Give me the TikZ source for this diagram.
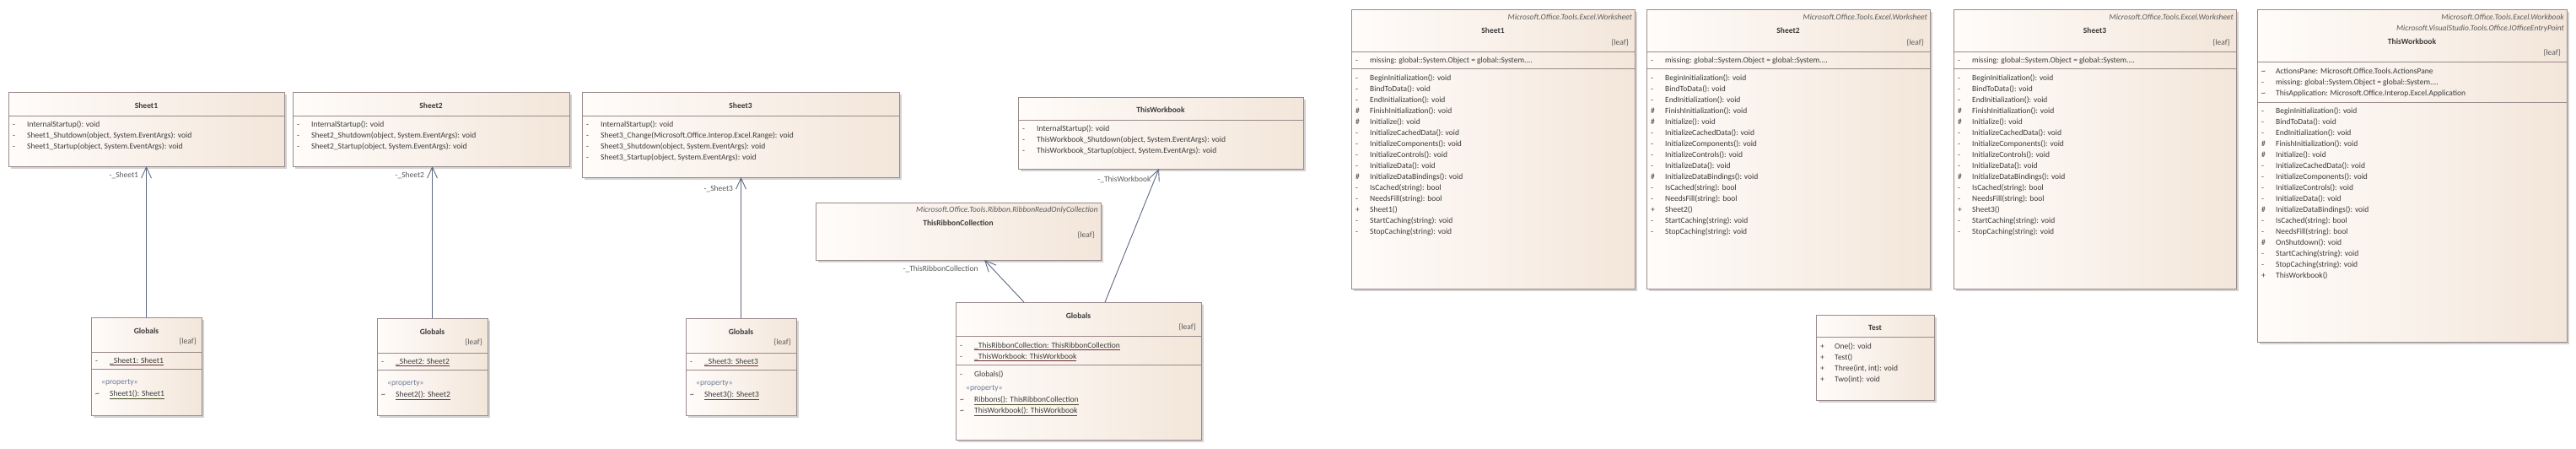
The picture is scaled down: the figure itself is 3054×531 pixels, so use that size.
\documentclass[tikz,border=0pt]{standalone}
\usepackage{fontspec}
\setmainfont{Carlito}
\usepackage{xcolor}
\usetikzlibrary{arrows.meta, positioning, calc, shadows}

\definecolor{boxline}{HTML}{9A8A8A}
\definecolor{boxleft}{HTML}{FFFCFA}
\definecolor{boxright}{HTML}{F3E6DA}
\definecolor{boxshadow}{HTML}{D2D2D2}
\definecolor{txt}{HTML}{3A3A3A}
\definecolor{stereo}{HTML}{5A5A5A}
\definecolor{assocline}{HTML}{5D6982}
\definecolor{attrline}{HTML}{6E2C2C}
\definecolor{propline}{HTML}{3F4B20}
\definecolor{propkw}{HTML}{6B7C99}

\newcommand{\rowfont}{\fontsize{9.5}{13}\selectfont}
\newcommand{\vis}[1]{\makebox[17pt][l]{#1}}
\newcommand{\attr}[1]{\textcolor{attrline}{\underline{\textcolor{txt}{#1}}}}
\newcommand{\prop}[1]{\textcolor{propline}{\underline{\textcolor{txt}{#1}}}}
\newcommand{\tld}{\textasciitilde}
\newcommand{\cut}{....}

\begin{document}
\begin{tikzpicture}[x=1pt, y=-1pt,
    classbox/.style={draw=boxline, line width=0.9pt, left color=boxleft, right color=boxright,
      anchor=north west, inner sep=0pt, outer sep=0pt,
      drop shadow={shadow xshift=3pt, shadow yshift=-3pt, fill=boxshadow, opacity=1}},
    divider/.style={draw=boxline, line width=0.9pt},
    classname/.style={anchor=base, inner sep=0pt, font=\rowfont\bfseries, text=txt},
    stereotype/.style={anchor=base east, inner sep=0pt, font=\rowfont\itshape, text=stereo},
    leaf/.style={anchor=base east, inner sep=0pt, font=\rowfont, text=stereo},
    row/.style={anchor=base west, inner sep=0pt, font=\rowfont, text=txt},
    propkey/.style={anchor=base west, inner sep=0pt, font=\rowfont, text=propkw},
    assoc/.style={-{Straight Barb[length=13pt, width=12pt]}, draw=assocline, line width=0.9pt},
    rolename/.style={anchor=east, inner sep=0pt, font=\rowfont, text=stereo}
]
  \useasboundingbox (0,0) rectangle (3054,531);
  \fill[white] (0,0) rectangle (3054,531);

  % Sheet classes (code-behind)
  \node[classbox, minimum width=327pt, minimum height=88pt] (sheetA) at (10,109) {};
  \node[classbox, minimum width=328pt, minimum height=88pt] (sheetB) at (347,109) {};
  \node[classbox, minimum width=376pt, minimum height=101pt] (sheetC) at (690,109) {};
  \foreach \s/\n in {sheetA/1, sheetB/2, sheetC/3} {
    \draw[divider] ([yshift=-28pt]\s.north west) -- ([yshift=-28pt]\s.north east);
    \node[classname] at ([yshift=-19pt]\s.north) {Sheet\n};
  }
  \foreach \t [count=\i from 0] in {{\vis{-}InternalStartup(): void},
      {\vis{-}Sheet1\_Shutdown(object, System.EventArgs): void},
      {\vis{-}Sheet1\_Startup(object, System.EventArgs): void}}
    \node[row] at ([xshift=5pt, yshift=-41pt-\i*13pt]sheetA.north west) {\t};
  \foreach \t [count=\i from 0] in {{\vis{-}InternalStartup(): void},
      {\vis{-}Sheet2\_Shutdown(object, System.EventArgs): void},
      {\vis{-}Sheet2\_Startup(object, System.EventArgs): void}}
    \node[row] at ([xshift=5pt, yshift=-41pt-\i*13pt]sheetB.north west) {\t};
  \foreach \t [count=\i from 0] in {{\vis{-}InternalStartup(): void},
      {\vis{-}Sheet3\_Change(Microsoft.Office.Interop.Excel.Range): void},
      {\vis{-}Sheet3\_Shutdown(object, System.EventArgs): void},
      {\vis{-}Sheet3\_Startup(object, System.EventArgs): void}}
    \node[row] at ([xshift=5pt, yshift=-41pt-\i*13pt]sheetC.north west) {\t};

  % ThisWorkbook (code-behind)
  \node[classbox, minimum width=338pt, minimum height=85pt] (wbA) at (1207,115) {};
  \draw[divider] ([yshift=-27pt]wbA.north west) -- ([yshift=-27pt]wbA.north east);
  \node[classname] at ([yshift=-18pt]wbA.north) {ThisWorkbook};
  \foreach \t [count=\i from 0] in {{\vis{-}InternalStartup(): void},
      {\vis{-}ThisWorkbook\_Shutdown(object, System.EventArgs): void},
      {\vis{-}ThisWorkbook\_Startup(object, System.EventArgs): void}}
    \node[row] at ([xshift=5pt, yshift=-40pt-\i*13pt]wbA.north west) {\t};

  % ThisRibbonCollection
  \node[classbox, minimum width=338pt, minimum height=68pt] (ribbon) at (967,240) {};
  \node[stereotype] at ([xshift=-3pt, yshift=-11pt]ribbon.north east) {Microsoft.Office.Tools.Ribbon.RibbonReadOnlyCollection};
  \node[classname] at ([yshift=-27pt]ribbon.north) {ThisRibbonCollection};
  \node[leaf] at ([xshift=-7pt, yshift=-41pt]ribbon.north east) {\{leaf\}};

  % Globals of each sheet
  \node[classbox, minimum width=131pt, minimum height=116pt] (globA) at (108,376) {};
  \node[classbox, minimum width=131pt, minimum height=115pt] (globB) at (447,377) {};
  \node[classbox, minimum width=131pt, minimum height=115pt] (globC) at (813,377) {};
  \foreach \g/\n in {globA/1, globB/2, globC/3} {
    \node[classname] at ([yshift=-19pt]\g.north) {Globals};
    \node[leaf] at ([xshift=-6pt, yshift=-31pt]\g.north east) {\{leaf\}};
    \draw[divider] ([yshift=-41pt]\g.north west) -- ([yshift=-41pt]\g.north east);
    \node[row] at ([xshift=5pt, yshift=-54pt]\g.north west) {\vis{-}\attr{\_Sheet\n: Sheet\n}};
    \draw[divider] ([yshift=-61pt]\g.north west) -- ([yshift=-61pt]\g.north east);
    \node[propkey] at ([xshift=12pt, yshift=-79pt]\g.north west) {«property»};
    \node[row] at ([xshift=5pt, yshift=-93pt]\g.north west) {\vis{\tld}\prop{Sheet\n(): Sheet\n}};
  }

  % Globals of the workbook
  \node[classbox, minimum width=291pt, minimum height=163pt] (globM) at (1133,358) {};
  \node[classname] at ([yshift=-19pt]globM.north) {Globals};
  \node[leaf] at ([xshift=-6pt, yshift=-32pt]globM.north east) {\{leaf\}};
  \draw[divider] ([yshift=-40pt]globM.north west) -- ([yshift=-40pt]globM.north east);
  \node[row] at ([xshift=5pt, yshift=-54pt]globM.north west) {\vis{-}\attr{\_ThisRibbonCollection: ThisRibbonCollection}};
  \node[row] at ([xshift=5pt, yshift=-67pt]globM.north west) {\vis{-}\attr{\_ThisWorkbook: ThisWorkbook}};
  \draw[divider] ([yshift=-74pt]globM.north west) -- ([yshift=-74pt]globM.north east);
  \node[row] at ([xshift=5pt, yshift=-88pt]globM.north west) {\vis{-}Globals()};
  \node[propkey] at ([xshift=12pt, yshift=-104pt]globM.north west) {«property»};
  \node[row] at ([xshift=5pt, yshift=-118pt]globM.north west) {\vis{\tld}\prop{Ribbons(): ThisRibbonCollection}};
  \node[row] at ([xshift=5pt, yshift=-131pt]globM.north west) {\vis{\tld}\prop{ThisWorkbook(): ThisWorkbook}};

  % Associations
  \draw[assoc] (globA.north) -- (globA.north |- sheetA.south)
    node[rolename, pos=1, xshift=-9pt, yshift=-11pt] {-\_Sheet1};
  \draw[assoc] (globB.north) -- (globB.north |- sheetB.south)
    node[rolename, pos=1, xshift=-9pt, yshift=-11pt] {-\_Sheet2};
  \draw[assoc] (globC.north) -- (globC.north |- sheetC.south)
    node[rolename, pos=1, xshift=-9pt, yshift=-14pt] {-\_Sheet3};
  \draw[assoc] ([xshift=-64.5pt]globM.north) -- ([xshift=31pt]ribbon.south)
    node[rolename, pos=1, xshift=-7pt, yshift=-11pt] {-\_ThisRibbonCollection};
  \draw[assoc] ([xshift=31.5pt]globM.north) -- ([xshift=-2pt]wbA.south)
    node[rolename, pos=1, xshift=-9pt, yshift=-13pt] {-\_ThisWorkbook};

  % Generated worksheet classes
  \node[classbox, minimum width=336pt, minimum height=331pt] (sheetR1) at (1602,11) {};
  \node[classbox, minimum width=336pt, minimum height=331pt] (sheetR2) at (1952,11) {};
  \node[classbox, minimum width=335pt, minimum height=331pt] (sheetR3) at (2316,11) {};
  \foreach \s/\n in {sheetR1/1, sheetR2/2, sheetR3/3} {
    \node[stereotype] at ([xshift=-3pt, yshift=-12pt]\s.north east) {Microsoft.Office.Tools.Excel.Worksheet};
    \node[classname] at ([yshift=-28pt]\s.north) {Sheet\n};
    \node[leaf] at ([xshift=-7pt, yshift=-42pt]\s.north east) {\{leaf\}};
    \draw[divider] ([yshift=-50pt]\s.north west) -- ([yshift=-50pt]\s.north east);
    \node[row] at ([xshift=5pt, yshift=-63pt]\s.north west) {\vis{-}missing: global::System.Object = global::System\cut};
    \draw[divider] ([yshift=-70pt]\s.north west) -- ([yshift=-70pt]\s.north east);
    \foreach \t [count=\i from 0] in {{\vis{-}BeginInitialization(): void},
        {\vis{-}BindToData(): void}, {\vis{-}EndInitialization(): void},
        {\vis{\#}FinishInitialization(): void}, {\vis{\#}Initialize(): void},
        {\vis{-}InitializeCachedData(): void}, {\vis{-}InitializeComponents(): void},
        {\vis{-}InitializeControls(): void}, {\vis{-}InitializeData(): void},
        {\vis{\#}InitializeDataBindings(): void}, {\vis{-}IsCached(string): bool},
        {\vis{-}NeedsFill(string): bool}, {\vis{+}Sheet\n()},
        {\vis{-}StartCaching(string): void}, {\vis{-}StopCaching(string): void}}
      \node[row] at ([xshift=5pt, yshift=-84pt-\i*13pt]\s.north west) {\t};
  }

  % Generated workbook class
  \node[classbox, minimum width=367pt, minimum height=394pt] (wbR) at (2676,11) {};
  \node[stereotype] at ([xshift=-3pt, yshift=-12pt]wbR.north east) {Microsoft.Office.Tools.Excel.Workbook};
  \node[stereotype] at ([xshift=-3pt, yshift=-25pt]wbR.north east) {Microsoft.VisualStudio.Tools.Office.IOfficeEntryPoint};
  \node[classname] at ([yshift=-41pt]wbR.north) {ThisWorkbook};
  \node[leaf] at ([xshift=-7pt, yshift=-54pt]wbR.north east) {\{leaf\}};
  \draw[divider] ([yshift=-62pt]wbR.north west) -- ([yshift=-62pt]wbR.north east);
  \foreach \t [count=\i from 0] in {{\vis{\tld}ActionsPane: Microsoft.Office.Tools.ActionsPane},
      {\vis{-}missing: global::System.Object = global::System\cut},
      {\vis{\tld}ThisApplication: Microsoft.Office.Interop.Excel.Application}}
    \node[row] at ([xshift=5pt, yshift=-76pt-\i*13pt]wbR.north west) {\t};
  \draw[divider] ([yshift=-110pt]wbR.north west) -- ([yshift=-110pt]wbR.north east);
  \foreach \t [count=\i from 0] in {{\vis{-}BeginInitialization(): void},
      {\vis{-}BindToData(): void}, {\vis{-}EndInitialization(): void},
      {\vis{\#}FinishInitialization(): void}, {\vis{\#}Initialize(): void},
      {\vis{-}InitializeCachedData(): void}, {\vis{-}InitializeComponents(): void},
      {\vis{-}InitializeControls(): void}, {\vis{-}InitializeData(): void},
      {\vis{\#}InitializeDataBindings(): void}, {\vis{-}IsCached(string): bool},
      {\vis{-}NeedsFill(string): bool}, {\vis{\#}OnShutdown(): void},
      {\vis{-}StartCaching(string): void}, {\vis{-}StopCaching(string): void},
      {\vis{+}ThisWorkbook()}}
    \node[row] at ([xshift=5pt, yshift=-123pt-\i*13pt]wbR.north west) {\t};

  % Test
  \node[classbox, minimum width=140pt, minimum height=101pt] (test) at (2153,373) {};
  \node[classname] at ([yshift=-18pt]test.north) {Test};
  \draw[divider] ([yshift=-26pt]test.north west) -- ([yshift=-26pt]test.north east);
  \foreach \t [count=\i from 0] in {{\vis{+}One(): void}, {\vis{+}Test()},
      {\vis{+}Three(int, int): void}, {\vis{+}Two(int): void}}
    \node[row] at ([xshift=5pt, yshift=-40pt-\i*13pt]test.north west) {\t};
\end{tikzpicture}
\end{document}
